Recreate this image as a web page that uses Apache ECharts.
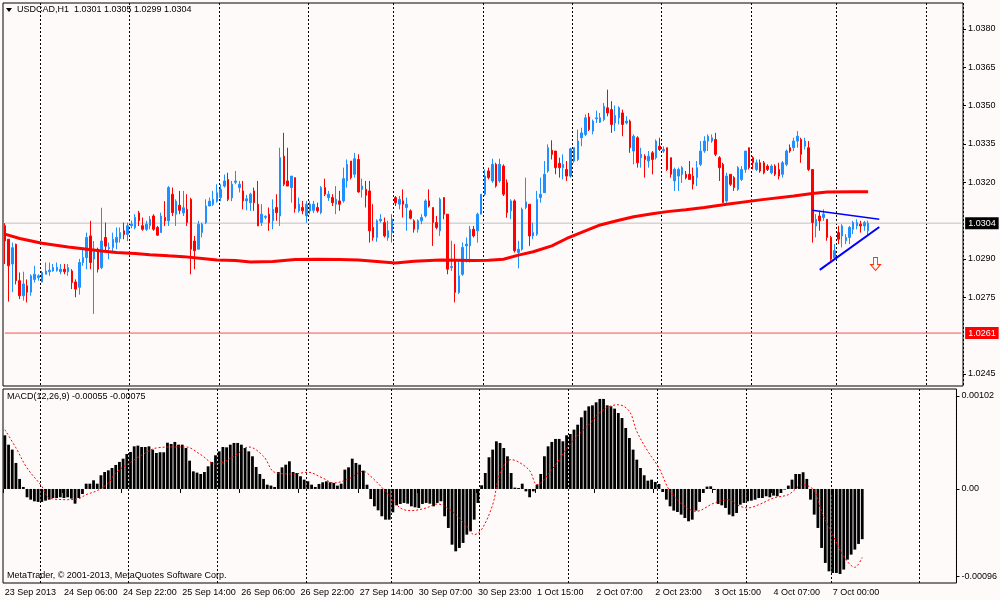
<!DOCTYPE html>
<html>
<head>
<meta charset="utf-8">
<title>USDCAD,H1</title>
<script src="https://cdn.jsdelivr.net/npm/echarts@6/dist/echarts.min.js"></script>
<style>
  html, body { margin: 0; padding: 0; background: #FFFAFA; }
  #chart { width: 1000px; height: 600px; }
</style>
</head>
<body>
<div id="chart"></div>
<script>
const FONT = 'Liberation Sans, DejaVu Sans, sans-serif';

// x axis: one slot per hourly bar, plus the empty chart shift on the right
const totalSlots = 258;
const labelStep = 16;
const tickLabels = ['23 Sep 2013', '24 Sep 06:00', '24 Sep 22:00', '25 Sep 14:00', '26 Sep 06:00',
  '26 Sep 22:00', '27 Sep 14:00', '30 Sep 07:00', '30 Sep 23:00', '1 Oct 15:00', '2 Oct 07:00',
  '2 Oct 23:00', '3 Oct 15:00', '4 Oct 07:00', '7 Oct 00:00'];
// bar index of every midnight (period separators)
const daySeparators = [10, 34, 58, 82, 105, 129, 153, 177, 201, 224, 248];

// prices in pips above 1.0000 (303 -> 1.0303)
const opens = [
  303, 297.7, 288, 295.7, 281.5, 275.6, 279.5, 277, 282, 282.7,
  281, 284, 285, 285.3, 285.5, 285, 286, 285, 285.3, 281,
  278.9, 288.6, 290.5, 299, 290, 293.8, 286.6, 298.4, 294, 294.5,
  296.5, 298, 301, 299.6, 303, 302.3, 308, 303, 301.6, 303,
  306.8, 302.3, 300.3, 306.2, 304.9, 315.3, 307.5, 311, 308, 309.4,
  313.3, 297, 293.8, 300.3, 304.2, 310.7, 311.3, 312.6, 314, 318.5,
  321.1, 313.9, 320, 317.9, 316.6, 312.7, 312, 316.6, 311.4, 304.2,
  306.3, 307.5, 304.9, 310.1, 306.8, 330.2, 320.5, 317.9, 321.8, 308.8,
  310.1, 306.8, 308.8, 309, 310.1, 308.1, 317.9, 314, 314, 311.4,
  312.7, 312.7, 320.5, 328.3, 323.1, 328.9, 317.2, 317.2, 316.6, 302.3,
  298.4, 304.9, 304.2, 298.4, 300.3, 314, 311.4, 312.7, 310.1, 308.8,
  304.9, 301.6, 304.9, 306.8, 312.7, 310.1, 304.2, 301, 314, 307.5,
  286.6, 289.3, 276.9, 284, 295.1, 295.1, 301.6, 301, 307.5, 315.3,
  324.4, 320.5, 327, 320.5, 326.3, 319.8, 308.8, 312.7, 292.5, 293.8,
  310.1, 311.4, 299, 299.7, 314, 315.9, 324.4, 332.5, 332.2, 327.4,
  325.7, 325, 322.4, 328.3, 328.9, 337.4, 338.7, 345.5, 340, 344.8,
  343.5, 344.5, 349.1, 348.4, 343.2, 345.2, 347.1, 343.2, 343.9, 332.2,
  337.4, 329.6, 330.2, 328.3, 331.5, 329.6, 334.1, 332.2, 333.5, 329.6,
  320.5, 322.4, 323.1, 323.1, 323.1, 322.4, 321.8, 327, 332.2, 336.1,
  336.1, 336.7, 329.6, 327, 312.7, 323.1, 321.8, 317.2, 321.1, 325,
  333.5, 329.6, 325, 327.6, 327.6, 326.3, 323.7, 326.3, 325, 323.1,
  327, 333.5, 333.5, 336.1, 336.7, 334.1, 333.5, 325, 302.9, 306.8,
  306.2, 305.5, 298.4, 290.5, 300.3, 299, 297.1, 298.4, 301.6, 302.9,
  303.6, 302.9, 301
];
const highs = [
  304, 297.7, 296.4, 296, 284.7, 285, 282, 284, 287.3, 284,
  285.3, 288.6, 288.6, 288, 288.6, 288, 288, 288, 286, 282,
  290, 294.4, 300.3, 304.9, 297, 294.4, 310, 304.2, 296.4, 300.3,
  302.3, 302.3, 304.2, 304.2, 305, 307.5, 308.8, 306.2, 304.9, 306.8,
  307.5, 302.9, 308.1, 312.6, 318.5, 317.9, 313.3, 316.6, 316.6, 315.3,
  313.9, 299, 304.9, 304.2, 313.3, 314, 316.6, 319.2, 319.2, 323,
  323.7, 320.5, 324.4, 320.5, 320.5, 315, 315.9, 317.9, 320.5, 311.4,
  307, 310.1, 313.3, 315.3, 333.5, 339.3, 333.5, 322.4, 321.8, 314,
  312.7, 312.7, 312.7, 312.7, 312, 318.5, 321.4, 316.6, 315.3, 318.5,
  316.6, 325.7, 328.9, 328.3, 331.5, 330.9, 321.4, 320.5, 320.5, 311.4,
  305.5, 307.5, 306.2, 304.9, 307.5, 314.6, 314.6, 317.2, 314, 309.4,
  305.5, 305.5, 307.5, 313.3, 317.2, 310.1, 306.8, 314, 314, 307.5,
  297.1, 295.8, 289.3, 296.4, 298.4, 302.9, 302.9, 308.1, 315.3, 325,
  325.7, 329.2, 327.6, 329.2, 327, 321.1, 313.3, 313.3, 297.1, 310.1,
  321.8, 311.4, 304.2, 316.6, 321.8, 328.3, 334.8, 336.4, 332.2, 329.6,
  330.9, 328.3, 333.5, 333.5, 340.6, 341.3, 346.5, 347.1, 344.5, 348,
  347.1, 351, 356.2, 351.7, 350, 349.7, 348.4, 345.8, 344.5, 338.7,
  338, 333.5, 330.9, 332.2, 332.2, 336.7, 337.4, 334, 333.5, 329.6,
  325.7, 325.7, 326.3, 324.4, 328.3, 325.7, 328.3, 336.1, 338, 338.7,
  338.7, 339.3, 330.2, 327.6, 323.7, 323.1, 322.4, 326.3, 326.3, 332.2,
  333.5, 330.2, 328.9, 328.9, 328.3, 327, 327, 327, 327.6, 328.3,
  332.8, 334.8, 337.4, 340, 337.4, 337.4, 336.1, 325, 307.5, 308.8,
  309.4, 305.5, 299, 295.8, 302.9, 303.6, 299.7, 302.9, 304.9, 305.5,
  304.9, 304.9, 305
];
const lows = [
  288, 273.3, 277, 280, 274.3, 273.7, 273, 275.6, 280.8, 281.5,
  280.8, 284, 283.4, 285, 285, 284, 284, 283.4, 278.2, 275,
  276, 287.3, 286, 286, 268.5, 284.7, 286, 293.2, 289.9, 292.5,
  293.8, 296.4, 297.7, 297, 302, 301.6, 302.9, 301, 301, 301.6,
  301, 299, 300.3, 302.9, 302.9, 306.8, 302.9, 307.5, 306.8, 302.9,
  284, 286, 293.8, 298.4, 303.6, 310.7, 310.7, 312, 312.6, 317.9,
  312.6, 312.6, 319.2, 316, 309.4, 309, 308.8, 308.8, 302.9, 302.9,
  305.5, 301, 301.6, 304.9, 302.9, 318.5, 318.5, 312, 308.1, 308.1,
  307.5, 304.2, 307.5, 308, 308.1, 307.5, 314.6, 312.7, 310.7, 307.5,
  308.8, 312, 317.9, 321.1, 321.8, 315.9, 314, 310.1, 296.4, 297.1,
  296.7, 304.2, 298.4, 297.1, 296.4, 310.7, 309.4, 306.2, 301, 305.5,
  300.3, 300.3, 303.6, 306.2, 310.1, 295.1, 301.6, 299, 305.5, 284,
  285.3, 273, 276.3, 283.4, 288.6, 288.6, 298.4, 296.4, 307.5, 314.6,
  321.1, 319.8, 317.9, 319.8, 314.6, 306.1, 305.5, 292.5, 286.3, 293.2,
  309.4, 295.1, 297.7, 299, 312, 315.9, 323.7, 328.9, 323.1, 321.8,
  321.1, 320.5, 321.8, 327.6, 328.3, 334.1, 338, 340, 338.7, 343.2,
  343.2, 343.9, 345.8, 339.3, 340, 342.6, 338, 342.6, 331.5, 327,
  325.7, 325.7, 321.8, 325.7, 323.1, 328.9, 332.2, 331.5, 324.4, 321.8,
  316.6, 316.6, 319.8, 321.1, 321.1, 317.2, 318.5, 326.3, 331.5, 332.2,
  335.4, 330.2, 320.5, 312, 312, 318.5, 316.6, 316.6, 320.5, 323.7,
  325, 325, 324.4, 323.7, 323.1, 324.4, 323.1, 322.4, 321.1, 321.8,
  326.3, 331.5, 332.2, 333.5, 327.6, 332.8, 324.4, 296.4, 298.4, 301,
  304.9, 297.1, 289.3, 289.9, 295.8, 294.5, 295.8, 295.8, 299.7, 301.6,
  300.3, 301, 299
];
const closes = [
  297, 287.3, 294.4, 281.5, 275.6, 280.2, 277, 283.4, 284, 283.4,
  284.7, 285.3, 285.6, 286.6, 286.7, 286, 285, 286.6, 280.8, 278.2,
  288.6, 290.5, 298.4, 288.6, 293, 286, 297, 295, 294.5, 297.7,
  298.4, 300.3, 299.6, 303, 303.6, 306.2, 304.9, 301.6, 303.6, 305.5,
  301.6, 299.3, 306.8, 304.9, 317.9, 308.1, 312.6, 309, 310, 304.2,
  293.8, 293.2, 303.6, 303.6, 310.7, 312.6, 313.3, 315.9, 317.2, 320.5,
  313.3, 319.2, 320.5, 319.2, 312.7, 313.5, 315.3, 312, 302.9, 307.5,
  306.7, 304.2, 309.4, 308.1, 329.6, 319.2, 318.5, 322.4, 309.7, 311.4,
  308.8, 311.4, 311.4, 311.4, 308.8, 317.9, 315.3, 315.3, 312, 313.3,
  311.4, 321.4, 327, 321.8, 329.2, 316.2, 318.5, 314.9, 301, 298.4,
  304.9, 305.5, 299, 301, 305.5, 312, 313.3, 311.4, 311.4, 305.9,
  301.6, 304.9, 306.2, 312.7, 310.7, 304.2, 302.3, 313.3, 307.5, 286,
  287, 276.9, 283.4, 294.5, 295.8, 301.6, 299, 307.5, 315.3, 322.4,
  321.8, 327, 318.5, 327, 315.3, 308.1, 312.7, 293.2, 293.8, 309.4,
  312.3, 299, 300.3, 313.3, 315.3, 323.1, 333.5, 330.9, 325.7, 325.7,
  327, 322.4, 333.1, 333.5, 336.1, 339.3, 345.2, 340.6, 343.9, 345.2,
  345.2, 349.7, 347.1, 342.6, 346.1, 349.1, 342.6, 343.9, 333.5, 338,
  327.6, 330.9, 328.9, 330.2, 328.9, 336.1, 332.8, 332.8, 325, 323.1,
  325, 325, 325.7, 321.8, 321.1, 319.2, 325.7, 332.2, 336.1, 338,
  337.4, 330.9, 325.7, 312, 322.4, 319.2, 317.9, 325.7, 325, 332.2,
  325.7, 327.6, 327.6, 324.4, 323.7, 325, 326.3, 323.1, 322.4, 327.6,
  332.2, 332.2, 336.1, 338, 330.9, 336.1, 325, 304.2, 305.5, 304.9,
  307.5, 298.4, 289.9, 293.2, 297.7, 302.9, 298.4, 302.3, 304.2, 304.2,
  302.9, 304.2, 304
];

// moving average read at sample bars: [bar, pips]
const maPoints = [
  [0, 299.7], [4, 298], [10, 296.1], [17, 294.7], [21, 294], [26, 293.1], [30, 292.5],
  [35, 292.1], [39, 291.6], [44, 291.2], [48, 290.9], [53, 290.2], [57, 289.6], [62, 289.4],
  [66, 288.8], [72, 289], [78, 289.8], [84, 289.9], [90, 289.8], [95, 289.6], [100, 289],
  [105, 288.4], [110, 289.1], [117, 289.6], [126, 289.4], [130, 289.5], [134, 289.9],
  [138, 291.5], [142, 292.8], [147, 295.1], [151, 298], [156, 301], [160, 303.3],
  [165, 305.1], [169, 306.5], [174, 307.7], [178, 308.5], [183, 309.2], [188, 310.1],
  [194, 311.4], [203, 313.1], [212, 314.6], [217, 315.6], [221, 316.2], [228, 316.3], [232, 316.3]
];

// MACD main (histogram), units of 0.00001
const macdHist = [
  58.8, 48.5, 43.1, 28.5, 11, 2.2, -9.1, -11.7, -13.5, -14.2,
  -14.2, -12.8, -11.7, -9.9, -9.9, -9.1, -9.9, -9.1, -10.6, -16.1,
  -9.9, -5.5, 5.8, 5.8, 9.5, 5.8, 15, 18.6, 20.4, 23,
  26.3, 29.6, 33.2, 38.3, 40.5, 46.7, 47.5, 46, 46, 46.7,
  43.1, 39.4, 40.2, 40.2, 50.7, 49.3, 51.5, 48.5, 48.5, 44.9,
  31, 19.3, 17.9, 16.4, 18.6, 24.8, 29.6, 36.9, 41.2, 46,
  45.6, 48.5, 50.4, 50.4, 48.5, 44.9, 41.2, 35.8, 24.1, 16.4,
  11, 4.7, 3.7, 2.2, 18.6, 23.7, 26.6, 30.3, 18.6, 17.5,
  13.9, 10.2, 8.4, 4.7, 2.2, 5.5, 7.3, 8.4, 7.3, 6.6,
  3.7, 5.8, 21.2, 23.7, 33.2, 28.5, 26.6, 20.1, 4.7, -11,
  -19, -23.4, -29.9, -33.6, -33.6, -25.6, -17.9, -16.4, -15.3, -16.1,
  -19, -20.1, -20.8, -16.4, -15.3, -16.1, -19, -15.3, -13.5, -29.9,
  -42.7, -61, -68.3, -64.6, -59.1, -50, -46.4, -33.6, -15.3, 4,
  17.5, 34.7, 43.1, 52.2, 50.4, 44.9, 35.8, 17.5, 1.5, 1.1,
  5.8, -2.6, -9.1, -2.6, 4.7, 16.4, 35.8, 46.7, 51.5, 54.8,
  54.8, 52.2, 58.8, 60.2, 65, 70.4, 78.5, 85.8, 90.5, 91.6,
  94.9, 98.6, 98.6, 91.6, 90.5, 88, 83.2, 77.7, 66.8, 55.8,
  43.1, 32.1, 23, 15, 9.1, 10.2, 7.7, 5.5, -3.3, -11.7,
  -19, -23.7, -25.2, -28.1, -31.8, -35.4, -33.6, -23.7, -14.2, -4.4,
  2.6, 2.9, -1.1, -16.4, -17.9, -20.8, -28.1, -29.9, -26.3, -17.2,
  -15.3, -13.5, -12.8, -11.7, -9.9, -9.9, -8, -9.1, -7.3, -8,
  -4.4, -0.7, 3.7, 10.2, 16.4, 16.4, 18.3, 11, -11.7, -28.1,
  -42.7, -64.6, -81, -90.2, -92, -92, -93.1, -88.3, -77.4, -71.9,
  -66.4, -60.2, -55
];
// MACD signal read at sample bars: [bar, 0.00001 units]
const macdSignal = [
  [0, 65], [3, 45], [6, 23], [10, 2.9], [12, -9.9], [17, -11.7], [20, -10.6], [22, -6.2],
  [25, -1.8], [28, 6.6], [30, 17.5], [34, 29.2], [38, 39.4], [41, 44.9], [46, 46], [49, 46],
  [53, 37.6], [57, 27.4], [62, 35.8], [66, 46], [70, 35.8], [73, 18.3], [78, 16.4], [82, 18.3],
  [86, 12], [89, 6.6], [93, 11], [97, 19.3], [99, 13.9], [103, -2.6], [107, -20.8], [110, -23.7],
  [114, -20.8], [117, -16.4], [121, -24.5], [125, -40.9], [127, -50], [129, -44.5], [132, -17.2],
  [134, 17.5], [137, 32.1], [139, 29.6], [142, 20.1], [144, 4.7], [148, 21.2], [153, 49.3],
  [158, 70.4], [162, 86.9], [166, 92.3], [169, 85], [171, 63.1], [174, 41.2], [177, 23],
  [180, -2.6], [184, -19], [187, -24.5], [192, -15.3], [196, -11.7], [198, -17.2], [201, -20.8],
  [204, -17.2], [208, -9.9], [212, -6.2], [216, 4.7], [219, -1.8], [221, -24.5], [224, -50],
  [227, -73.7], [230, -85.8], [232, -75]
];

const mainTicks = [1.0245, 1.0275, 1.0290, 1.0320, 1.0335, 1.0350, 1.0365, 1.0380];
const macdTicks = [0.00102, 0, -0.00096];
const alertLevel = 1.0261;
// drawn triangle: [bar1, pips1, bar2, pips2]
const trendLines = [[217, 309.0, 235, 305.5], [219, 285.7, 235, 302.5]];
const arrowAt = [234, 288];

function px(p) { return +(1 + p / 10000).toFixed(5); }
function mv(v) { return +(v / 100000).toFixed(6); }

const slots = [];
for (let i = 0; i < totalSlots; i++) slots.push(String(i));

const candles = opens.map((o, i) => [px(o), px(closes[i]), px(lows[i]), px(highs[i])]);
const last = opens.length - 1;
const bid = px(closes[last]);
const headText = 'USDCAD,H1  ' + [opens[last], highs[last], lows[last], closes[last]]
  .map(v => px(v).toFixed(4)).join(' ');
const macdText = 'MACD(12,26,9) ' + mv(macdHist[last]).toFixed(5) + ' ' +
  mv(macdSignal[macdSignal.length - 1][1]).toFixed(5);

const isSeparator = (i) => daySeparators.indexOf(i) >= 0;
const isLabel = (i) => i % labelStep === 0 && i / labelStep < tickLabels.length;
const sepLine = { show: true, interval: isSeparator, lineStyle: { color: '#000', width: 1, type: [2, 2] } };

// a horizontal price level across all slots, with its price box on the axis
function levelSeries(value, lineColor, boxColor) {
  return {
    type: 'line', xAxisIndex: 0, yAxisIndex: 0, z: 1, silent: true, showSymbol: false, clip: false,
    data: [[0, value], [totalSlots - 1, value]],
    lineStyle: { color: lineColor, width: 1 },
    endLabel: {
      show: true, distance: 4, formatter: value.toFixed(4),
      backgroundColor: boxColor, color: '#fff', padding: [2, 3, 1, 3], fontSize: 9, fontFamily: FONT
    }
  };
}

function trendLine(t, width) {
  return [
    { coord: [t[0], px(t[1])], lineStyle: { color: '#0000FF', width: width, type: 'solid' }, label: { show: false } },
    { coord: [t[2], px(t[3])] }
  ];
}

const chart = echarts.init(document.getElementById('chart'), null, { renderer: 'canvas' });

const option = {
  backgroundColor: '#FFFAFA',
  animation: false,
  textStyle: { fontFamily: FONT },
  graphic: [
    { type: 'polygon', shape: { points: [[6, 8], [12, 8], [9, 12]] }, style: { fill: '#000' } },
    { type: 'text', x: 17, y: 5, style: { text: headText, font: '9px ' + FONT, fill: '#000' } },
    { type: 'text', x: 7, y: 392, style: { text: macdText, font: '9px ' + FONT, fill: '#000' } },
    { type: 'text', x: 7, y: 571, style: { text: 'MetaTrader, \u00A9 2001-2013, MetaQuotes Software Corp.', font: '9px ' + FONT, fill: '#000' } }
  ],
  grid: [
    { left: 3, right: 37, top: 3, height: 383, show: true, borderColor: '#000', borderWidth: 1 },
    { left: 3, right: 37, top: 389, height: 194, show: true, borderColor: '#000', borderWidth: 1 }
  ],
  xAxis: [
    {
      type: 'category', gridIndex: 0, data: slots, boundaryGap: true,
      axisLine: { show: false }, axisTick: { show: false }, axisLabel: { show: false },
      splitLine: sepLine
    },
    {
      type: 'category', gridIndex: 1, data: slots, boundaryGap: true,
      axisLine: { show: false },
      axisTick: { show: true, interval: isLabel, length: 4, lineStyle: { color: '#000' } },
      axisLabel: {
        interval: isLabel, align: 'left', margin: 5, fontSize: 9, color: '#000', fontFamily: FONT,
        formatter: (v, i) => tickLabels[i / labelStep] || ''
      },
      splitLine: sepLine
    }
  ],
  yAxis: [
    {
      type: 'value', gridIndex: 0, position: 'right', min: 1.02403, max: 1.03901, scale: true,
      splitLine: { show: false }, axisLine: { show: false },
      axisTick: { show: true, length: 3, customValues: mainTicks, lineStyle: { color: '#000' } },
      axisLabel: { customValues: mainTicks, margin: 5, fontSize: 9, color: '#000', fontFamily: FONT,
        formatter: v => v.toFixed(4) }
    },
    {
      type: 'value', gridIndex: 1, position: 'right', min: -0.00103, max: 0.001095,
      splitLine: { show: false }, axisLine: { show: false },
      axisTick: { show: true, length: 3, customValues: macdTicks, lineStyle: { color: '#000' } },
      axisLabel: { customValues: macdTicks, margin: 5, fontSize: 9, color: '#000', fontFamily: FONT,
        formatter: v => (v === 0 ? '0.00' : v.toFixed(5)) }
    }
  ],
  series: [
    levelSeries(bid, '#C0C0C0', '#000'),
    levelSeries(alertLevel, '#FF4D4D', '#FF0000'),
    {
      type: 'candlestick', xAxisIndex: 0, yAxisIndex: 0, data: candles, barWidth: 2, silent: true, z: 2,
      itemStyle: { color: '#1E90FF', color0: '#FF0000', borderColor: '#1E90FF', borderColor0: '#FF0000', borderWidth: 1 },
      markLine: {
        symbol: 'none', silent: true,
        data: [trendLine(trendLines[0], 1.5), trendLine(trendLines[1], 2)]
      },
      markPoint: {
        silent: true,
        data: [{
          coord: [arrowAt[0], px(arrowAt[1])],
          symbol: 'path://M3,0L7,0L7,6L10,6L5,11L0,6L3,6Z', symbolSize: [10, 13],
          itemStyle: { color: '#FFFAFA', borderColor: '#FF3300', borderWidth: 1 },
          label: { show: false }
        }]
      }
    },
    {
      type: 'line', xAxisIndex: 0, yAxisIndex: 0, z: 3, silent: true, showSymbol: false,
      data: maPoints.map(p => [p[0], px(p[1])]),
      lineStyle: { color: '#FF0000', width: 3 }
    },
    {
      type: 'bar', xAxisIndex: 1, yAxisIndex: 1, silent: true, barWidth: 2.8,
      data: macdHist.map(mv), itemStyle: { color: '#000' }
    },
    {
      type: 'line', xAxisIndex: 1, yAxisIndex: 1, silent: true, showSymbol: false, smooth: 0.35, z: 3,
      data: macdSignal.map(p => [p[0], mv(p[1])]),
      lineStyle: { color: '#FF0000', width: 1, type: [2, 2] }
    }
  ]
};

chart.setOption(option);
</script>
</body>
</html>
